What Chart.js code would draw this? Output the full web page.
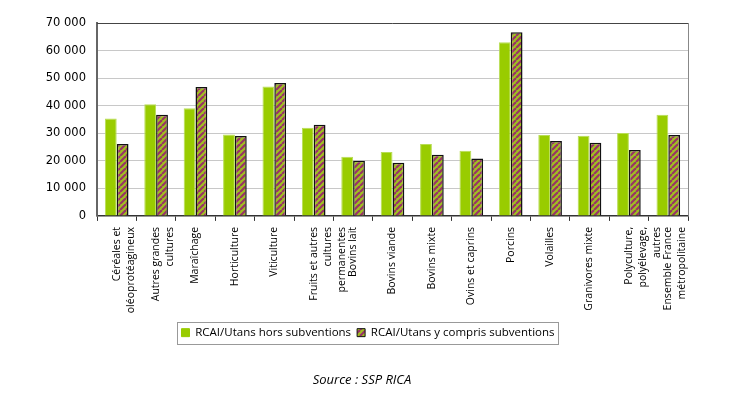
<!DOCTYPE html>
<html>
<head>
<meta charset="utf-8">
<script src="https://cdn.jsdelivr.net/npm/chart.js@4"></script>
<style>
  html, body { margin: 0; padding: 0; background: #fff; }
  #wrap { width: 745px; height: 399px; }
</style>
</head>
<body>
<div id="wrap"><canvas id="graphique"></canvas></div>
<script>
// catégories d'exploitation (OTEX)
const categories = [
  ['Céréales et', 'oléoprotéagineux'],
  ['Autres grandes', 'cultures'],
  'Maraîchage',
  'Horticulture',
  'Viticulture',
  ['Fruits et autres', 'cultures', 'permanentes'],
  'Bovins lait',
  'Bovins viande',
  'Bovins mixte',
  'Ovins et caprins',
  'Porcins',
  'Volailles',
  'Granivores mixte',
  ['Polyculture,', 'polyélevage,', 'autres'],
  ['Ensemble France', 'métropolitaine']
];
const horsSubventions = [35300, 40500, 39100, 29500, 47000, 32000, 21500, 23200, 26100, 23600, 63000, 29400, 29100, 30100, 36700];
const avecSubventions = [26100, 36700, 46800, 29000, 48200, 33100, 20000, 19300, 22200, 20800, 66600, 27200, 26500, 23900, 29400];
const yTicks = [0, 10000, 20000, 30000, 40000, 50000, 60000, 70000];

// motif hachuré vert / violet
function hachures() {
  const c = document.createElement('canvas');
  c.width = 6; c.height = 6;
  const g = c.getContext('2d');
  g.fillStyle = '#a0c020';
  g.fillRect(0, 0, 6, 6);
  g.strokeStyle = '#993366';
  g.lineWidth = 2.2;
  for (let k = -6; k <= 12; k += 6) {
    g.beginPath();
    g.moveTo(k, 6);
    g.lineTo(k + 6, 0);
    g.stroke();
  }
  return g.createPattern(c, 'repeat');
}

const motif = hachures();

// décale légende et source vers la droite (comme dans l'original)
const decalage = {
  id: 'decalage',
  afterLayout(chart) {
    if (chart.legend) { chart.legend.left += 24; chart.legend.right += 24; }
    if (chart.titleBlock) { chart.titleBlock.left += 18; chart.titleBlock.right += 18; }
  }
};

// cadre du graphique + bordure de la légende
const cadre = {
  id: 'cadre',
  afterDraw(chart) {
    const { ctx, chartArea: a, legend } = chart;
    ctx.save();
    ctx.lineWidth = 1;
    ctx.strokeStyle = '#444';
    ctx.beginPath();
    ctx.moveTo(a.left, a.top + 0.5);
    ctx.lineTo(a.right, a.top + 0.5);
    ctx.stroke();
    ctx.strokeStyle = '#888';
    ctx.beginPath();
    ctx.moveTo(a.right + 0.5, a.top);
    ctx.lineTo(a.right + 0.5, a.bottom);
    ctx.stroke();
    if (legend && legend.legendHitBoxes.length) {
      const hb = legend.legendHitBoxes;
      const x0 = hb[0].left - 5;
      const last = hb[hb.length - 1];
      const x1 = last.left + last.width + 3;
      const y0 = hb[0].top - 5;
      const y1 = hb[0].top + hb[0].height + 5;
      ctx.strokeStyle = '#999';
      ctx.strokeRect(Math.round(x0) + 0.5, Math.round(y0) + 0.5, Math.round(x1 - x0), Math.round(y1 - y0));
    }
    ctx.restore();
  }
};

new Chart(document.getElementById('graphique'), {
  type: 'bar',
  data: {
    labels: categories,
    datasets: [
      {
        label: 'RCAI/Utans hors subventions',
        data: horsSubventions,
        backgroundColor: '#99cc00',
        borderColor: '#b8dd55',
        borderWidth: 1
      },
      {
        label: 'RCAI/Utans y compris subventions',
        data: avecSubventions,
        backgroundColor: motif,
        borderColor: '#111',
        borderWidth: 1.5
      }
    ]
  },
  plugins: [decalage, cadre],
  options: {
    responsive: true,
    maintainAspectRatio: false,
    animation: false,
    layout: { padding: { top: 23, right: 57, left: 0, bottom: 11 } },
    datasets: { bar: { categoryPercentage: 0.6, barPercentage: 1.0 } },
    scales: {
      x: {
        grid: { drawOnChartArea: false, color: '#333', tickLength: 5 },
        border: { color: '#333', width: 1.5 },
        ticks: {
          color: '#000',
          font: { family: 'Open Sans', size: 10.5, lineHeight: 1.35 },
          minRotation: 90,
          maxRotation: 90,
          autoSkip: false,
          padding: 6
        },
        afterFit(scale) { scale.height = 105; }
      },
      y: {
        min: 0,
        max: 70000,
        afterBuildTicks(scale) { scale.ticks = yTicks.map(v => ({ value: v })); },
        grid: { color: '#c8c8c8', drawTicks: false },
        border: { color: '#666', width: 2 },
        ticks: {
          color: '#000',
          padding: 11,
          font: { family: 'DejaVu Sans', size: 11.5 },
          callback: v => String(v).replace(/\B(?=(\d{3})+(?!\d))/g, ' ')
        },
        afterFit(scale) { scale.width = 97; }
      }
    },
    plugins: {
      legend: {
        position: 'bottom',
        labels: {
          color: '#000',
          boxWidth: 8,
          boxHeight: 8,
          padding: 6,
          font: { family: 'Open Sans', size: 11.5 },
          generateLabels(chart) {
            return chart.data.datasets.map((ds, i) => ({
              text: ds.label,
              fillStyle: ds.backgroundColor,
              strokeStyle: i === 0 ? '#99cc00' : '#111',
              lineWidth: 1,
              datasetIndex: i
            }));
          }
        }
      },
      title: {
        display: true,
        position: 'bottom',
        text: 'Source : SSP RICA',
        color: '#000',
        font: { family: 'Open Sans', size: 13, style: 'italic', weight: 'normal' },
        padding: { top: 24, bottom: 0 }
      },
      tooltip: { enabled: false }
    }
  }
});
</script>
</body>
</html>
